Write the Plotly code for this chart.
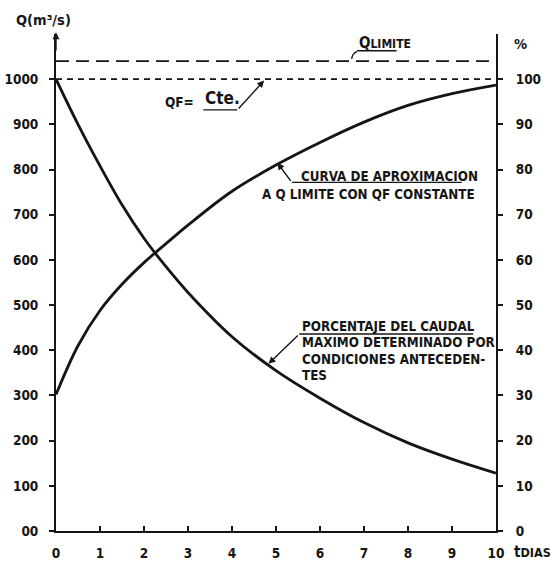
import plotly.graph_objects as go

# Time axis (days) and the two discharge curves in m3/s
t_days = [0, 0.5, 1, 1.5, 2, 2.5, 3, 4, 5, 6, 7, 8, 9, 10]
q_porcentaje = [1000, 900, 808, 722, 648, 585, 528, 430, 355, 294, 240, 195, 159, 128]
q_aproximacion = [302, 410, 488, 546, 594, 636, 677, 752, 810, 860, 905, 942, 968, 987]

# Reference levels
q_limite = 1040
q_f = 1000

# Axis ticks
t_ticks = list(range(0, 11))
t_tick_labels = [str(v) for v in t_ticks]
q_ticks = list(range(0, 1001, 100))
q_tick_labels = ["00"] + [str(v) for v in q_ticks[1:]]
pct_ticks = list(range(0, 101, 10))
pct_tick_labels = [str(v) for v in pct_ticks]

INK = "#151515"
FONT = "DejaVu Sans Condensed"

fig = go.Figure()

fig.add_trace(go.Scatter(
    x=t_days, y=q_porcentaje, mode="lines",
    line=dict(color=INK, width=2.8, shape="spline", smoothing=1.0),
    hoverinfo="skip", showlegend=False))
fig.add_trace(go.Scatter(
    x=t_days, y=q_aproximacion, mode="lines",
    line=dict(color=INK, width=2.8, shape="spline", smoothing=1.0),
    hoverinfo="skip", showlegend=False))

# Q limite (dashed) and QF = constant (dotted)
fig.add_trace(go.Scatter(
    x=[t_ticks[0], t_ticks[-1]], y=[q_limite, q_limite], mode="lines",
    line=dict(color=INK, width=1.8, dash="13px,7px"),
    hoverinfo="skip", showlegend=False))
fig.add_trace(go.Scatter(
    x=[t_ticks[0], t_ticks[-1]], y=[q_f, q_f], mode="lines",
    line=dict(color=INK, width=1.8, dash="6px,5px"),
    hoverinfo="skip", showlegend=False))

# invisible trace so the percent axis is drawn
fig.add_trace(go.Scatter(
    x=[0], y=[0], yaxis="y2", mode="markers",
    marker=dict(opacity=0), hoverinfo="skip", showlegend=False))

tick_font = dict(family=FONT, size=13.5, color=INK, weight="bold")

fig.update_layout(
    width=551, height=562,
    margin=dict(l=55.5, r=55, t=34, b=30.5, autoexpand=False),
    paper_bgcolor="white", plot_bgcolor="white",
    xaxis=dict(
        range=[0, 10], showgrid=False, zeroline=False,
        showline=True, linewidth=2, linecolor=INK,
        ticks="inside", ticklen=5, tickwidth=2, tickcolor=INK,
        tickvals=t_ticks, ticktext=t_tick_labels, tickfont=tick_font,
        ticklabelstandoff=9),
    yaxis=dict(
        range=[0, 1100], showgrid=False, zeroline=False,
        showline=True, linewidth=2, linecolor=INK,
        ticks="outside", ticklen=5, tickwidth=2, tickcolor=INK,
        tickvals=q_ticks, ticktext=q_tick_labels, tickfont=tick_font,
        ticklabelstandoff=8),
    yaxis2=dict(
        range=[0, 110], overlaying="y", side="right",
        showgrid=False, zeroline=False,
        showline=True, linewidth=2, linecolor=INK,
        ticks="outside", ticklen=5, tickwidth=2, tickcolor=INK,
        tickvals=pct_ticks, ticktext=pct_tick_labels, tickfont=tick_font,
        ticklabelstandoff=10),
)


def label(text, x, y, size=13.3, xanchor="left", ref="data"):
    r = "paper" if ref == "paper" else None
    fig.add_annotation(
        x=x, y=y, xref=r or "x", yref=r or "y", text=text, showarrow=False,
        xanchor=xanchor, yanchor="middle",
        font=dict(family=FONT, size=size, color=INK, weight="bold"))


def leader(x0, y0, x1, y1, head=True):
    fig.add_annotation(
        x=x1, y=y1, ax=x0, ay=y0, xref="x", yref="y", axref="x", ayref="y",
        text="", showarrow=True, arrowhead=2 if head else 0,
        arrowsize=1, arrowwidth=1.4, arrowcolor=INK, standoff=0)


def underline(x0, x1, y):
    fig.add_shape(type="line", xref="x", yref="y", x0=x0, x1=x1, y0=y, y1=y,
                  line=dict(color=INK, width=1.4))


# axis titles (outside the plotting area, so placed on the paper)
label("Q(m³/s)", -0.028, 1.029, size=14.5, xanchor="center", ref="paper")
label("%", 1.055, 0.98, size=14.5, xanchor="center", ref="paper")
label("t<span style='font-size:12.5px'>DIAS</span>", 1.036, -0.043,
      size=15, ref="paper")

# arrow on top of the discharge axis
leader(0, 1060, 0, 1104)

# Q limite
label("Q<span style='font-size:12px'>LIMITE</span>", 6.84, 1081, size=15)
underline(6.84, 7.74, 1063)
fig.add_shape(type="path", xref="x", yref="y",
              path="M 6.84 1061 Q 6.74 1058 6.72 1045",
              line=dict(color=INK, width=1.4))

# QF = Cte.
label("QF=", 2.44, 950, size=13.5)
label("Cte.", 3.35, 958, size=17)
underline(3.35, 4.12, 932)
leader(4.12, 932, 4.73, 997)

# approach curve note
label("CURVA DE APROXIMACION", 5.53, 785)
label("A Q LIMITE CON QF CONSTANTE", 4.64, 744.5)
underline(5.36, 9.22, 771.7)
leader(5.36, 771.7, 5.03, 815)

# percentage curve note
label("PORCENTAJE DEL CAUDAL", 5.55, 453)
label("MAXIMO DETERMINADO POR", 5.55, 417)
label("CONDICIONES ANTECEDEN-", 5.55, 379.4)
label("TES", 5.55, 344)
underline(5.53, 9.48, 436)
leader(5.53, 436, 4.83, 370)

fig.write_html("out.html")
